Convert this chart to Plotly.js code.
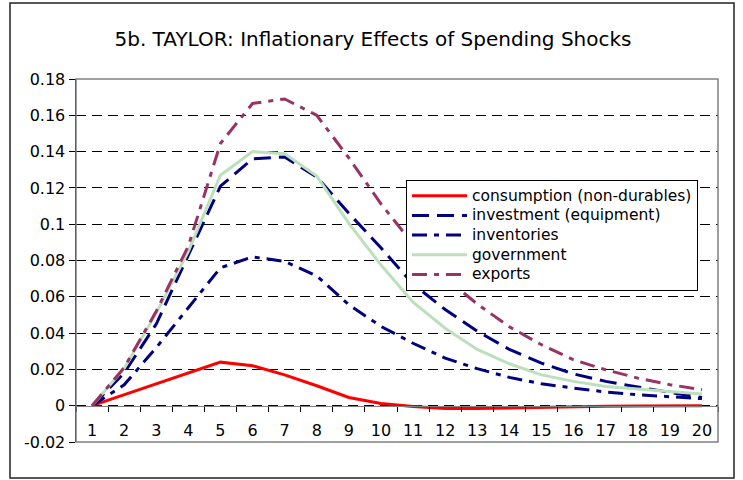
<!DOCTYPE html>
<html>
<head>
<meta charset="utf-8">
<script src="https://cdn.plot.ly/plotly-3.0.1.min.js"></script>
<style>
  html, body { margin: 0; padding: 0; background: #fff; }
  #chart { width: 743px; height: 480px; }
</style>
</head>
<body>
<div id="chart"></div>
<script>
// ---- data ----
const periods = [1,2,3,4,5,6,7,8,9,10,11,12,13,14,15,16,17,18,19,20];
const seriesNames = ["consumption (non-durables)", "investment (equipment)", "inventories", "government", "exports"];
const consumption = [0, 0.006, 0.012, 0.018, 0.024, 0.022, 0.017, 0.011, 0.0045, 0.0012, -0.0005, -0.0015, -0.0016, -0.0012, -0.0008, -0.0005, -0.0003, -0.0002, -0.0001, 0];
const investment  = [0, 0.018, 0.045, 0.083, 0.121, 0.136, 0.137, 0.126, 0.106, 0.087, 0.067, 0.053, 0.041, 0.031, 0.0235, 0.0175, 0.0134, 0.0103, 0.0072, 0.0045];
const inventories = [0, 0.0115, 0.032, 0.054, 0.076, 0.082, 0.0795, 0.0715, 0.0556, 0.0437, 0.0344, 0.0262, 0.0204, 0.0156, 0.0121, 0.0097, 0.0076, 0.006, 0.0048, 0.0039];
const government  = [0, 0.0205, 0.051, 0.085, 0.127, 0.14, 0.1388, 0.1265, 0.1005, 0.0775, 0.057, 0.0427, 0.031, 0.0231, 0.017, 0.0134, 0.0106, 0.0092, 0.0077, 0.0064];
const exportsS    = [0, 0.021, 0.052, 0.088, 0.1445, 0.1665, 0.169, 0.16, 0.1365, 0.1112, 0.089, 0.0705, 0.056, 0.0435, 0.0336, 0.0253, 0.0198, 0.0152, 0.0116, 0.0088];
const yTickVals = [-0.02, 0, 0.02, 0.04, 0.06, 0.08, 0.1, 0.12, 0.14, 0.16, 0.18];
const yTickText = ["-0.02", "0", "0.02", "0.04", "0.06", "0.08", "0.1", "0.12", "0.14", "0.16", "0.18"];
const xTickText = periods.map(String);
const titleText = "5b. TAYLOR: Inflationary Effects of Spending Shocks";

// ---- styles ----
const FONT = "DejaVu Sans, Verdana, sans-serif";
const styles = [
  {color: "#FF0000", dash: "solid", width: 3},
  {color: "#000080", dash: "17px,8px", width: 3},
  {color: "#000080", dash: "15px,7px,5px,7px", width: 3},
  {color: "#BCDFBC", dash: "solid", width: 3},
  {color: "#993366", dash: "15px,7px,5px,7px", width: 3}
];
const values = [consumption, investment, inventories, government, exportsS];

const traces = values.map((v, i) => ({
  x: periods, y: v, type: "scatter", mode: "lines",
  name: '<span style="font-size:15.5px">' + seriesNames[i] + '</span>',
  line: {color: styles[i].color, dash: styles[i].dash, width: styles[i].width},
  hoverinfo: "skip"
}));

// plot area in pixels: x 76..718, y 79..442
const L = 76, R = 718, T = 79, B = 442, W = 743, H = 480;
const px = v => (v - L) / (R - L);
const py = v => (B - v) / (B - T);

const layout = {
  width: W, height: H,
  margin: {l: L, r: W - R, t: T, b: H - B, pad: 0},
  paper_bgcolor: "#fff", plot_bgcolor: "#fff",
  font: {family: FONT, size: 16, color: "#000"},
  title: {text: titleText, x: 0.502, xref: "container", y: 1 - 39/480, yref: "container",
          xanchor: "center", yanchor: "middle", font: {family: FONT, size: 20, color: "#000"}},
  showlegend: true,
  legend: {x: px(406), y: py(180), xanchor: "left", yanchor: "top",
           bgcolor: "#fff", bordercolor: "#000", borderwidth: 1,
           font: {family: FONT, size: 12.8, color: "#000"},
           itemwidth: 55, tracegroupgap: 0},
  xaxis: {
    range: [0.5, 20.5], tickvals: periods, ticktext: xTickText,
    showgrid: false, zeroline: false,
    showline: true, linecolor: "#808080", linewidth: 1.5,
    anchor: "free", position: 0.1,
    ticks: "outside", ticklen: 10, tickcolor: "rgba(0,0,0,0)",
    minor: {tick0: 0.5, dtick: 1, ticks: "outside", ticklen: 5, tickcolor: "#000", tickwidth: 1, showgrid: false},
    tickfont: {family: FONT, size: 16, color: "#000"},
    fixedrange: true
  },
  yaxis: {
    range: [-0.02, 0.18], tickvals: yTickVals, ticktext: yTickText,
    showgrid: true, gridcolor: "#000", gridwidth: 1, griddash: "10px,6px",
    zeroline: false,
    showline: true, linecolor: "#000", linewidth: 1.5,
    ticks: "outside", ticklen: 6, tickcolor: "#000", tickwidth: 1,
    tickfont: {family: FONT, size: 16, color: "#000"},
    fixedrange: true
  },
  shapes: [
    {type: "rect", xref: "paper", yref: "paper", x0: 0, x1: 1, y0: 0, y1: 1,
     line: {color: "#808080", width: 1.5}, layer: "above"},
    {type: "rect", xref: "paper", yref: "paper", x0: px(10), x1: px(734), y0: py(478), y1: py(3),
     line: {color: "#222", width: 1.5}, layer: "below"}
  ]
};

Plotly.newPlot("chart", traces, layout, {displayModeBar: false, staticPlot: true});
</script>
</body>
</html>
